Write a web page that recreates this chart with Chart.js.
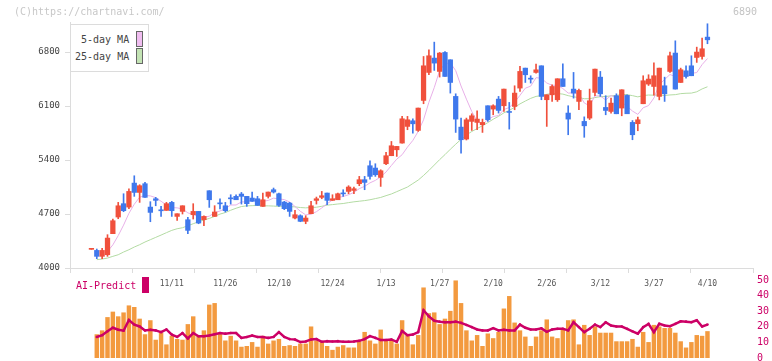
<!DOCTYPE html>
<html>
<head>
<meta charset="utf-8">
<script src="https://cdn.jsdelivr.net/npm/chart.js@4/dist/chart.umd.min.js"></script>
<style>
  html, body { margin: 0; padding: 0; background: #fff; overflow: hidden; }
  body { width: 772px; height: 361px; position: relative; font-family: "DejaVu Sans Mono", monospace; }
  #top { position: absolute; left: 0; top: 0; z-index: 2; }
  #bottom { position: absolute; left: 0; top: 270px; z-index: 1; }
  .txt { position: absolute; font-size: 10px; line-height: 10px; white-space: pre; z-index: 4; }
  #legend { position: absolute; left: 70px; top: 24px; width: 79px; height: 48px; box-sizing: border-box;
            border: 1px solid #dcdcdc; background: #fff; z-index: 3; }
  .sw { position: absolute; width: 7px; height: 16px; box-sizing: border-box; border: 1px solid #666; z-index: 4; }
</style>
</head>
<body>
<canvas id="top" width="772" height="295"></canvas>
<canvas id="bottom" width="772" height="100"></canvas>

<div class="txt" style="left:14px; top:7px; color:#c8c8c8;">(C)https://chartnavi.com/</div>
<div class="txt" style="left:733px; top:7px; color:#c4c4c4;">6890</div>
<div id="legend"></div>
<div class="txt" style="left:81px; top:35px; color:#444;">5-day MA</div>
<div class="txt" style="left:75px; top:52px; color:#444;">25-day MA</div>
<div class="sw" style="left:136px; top:31px; background:#f0bdf0;"></div>
<div class="sw" style="left:136px; top:48px; background:#c3e3b4;"></div>
<div class="txt" style="left:76px; top:281px; color:#cc0066;">AI-Predict</div>
<div style="position:absolute; left:142px; top:277px; width:7px; height:16px; background:#cc0066; z-index:4;"></div>

<script>
// daily candles, oldest first
const opens = [4242,4228,4151,4172,4445,4661,4834,4790,5101,4980,5093,4790,4898,4745,4747,4851,4669,4734,4626,4691,
  4734,4626,5002,4669,4836,4807,4900,4929,4959,4929,4907,4898,4799,4929,5015,4963,4855,4842,4648,4678,
  4605,4704,4877,4916,4972,4877,4885,4965,4993,5006,5093,5145,5326,5296,5175,5352,5456,5533,5620,5836,
  5909,5784,6173,6536,6722,6549,6795,6700,6225,5827,5672,5901,5888,5858,6104,6061,6190,6104,6020,6095,
  6333,6592,6452,6536,6622,6182,6246,6182,6454,6009,6320,6160,5901,5944,6277,6475,6082,6030,6234,6074,
  6238,5888,5871,6130,6385,6354,6225,6363,6549,6787,6406,6557,6622,6730,6743,6994];
const highs = [4250,4246,4254,4432,4635,4851,4963,5028,5196,5080,5110,4860,4916,4799,4851,4864,4704,4807,4656,4834,
  4734,4678,5002,4808,4898,4851,4950,4950,4980,4929,4985,4929,4972,4985,5037,4972,4864,4851,4747,4690,
  4678,4864,4920,4993,4972,4950,4972,5015,5067,5050,5188,5188,5391,5352,5274,5499,5641,5577,5966,5966,
  5935,6074,6743,6830,6929,6795,6808,6700,6259,5944,5944,6000,6039,5931,6104,6117,6225,6320,6147,6363,
  6614,6592,6493,6644,6622,6246,6376,6454,6648,6104,6536,6320,5960,6320,6580,6549,6234,6203,6259,6311,
  6246,5912,5957,6493,6506,6660,6592,6475,6800,6946,6592,6622,6752,6864,6981,7167];
const lows = [4242,4121,4121,4151,4445,4639,4730,4769,4929,4851,4916,4600,4807,4669,4747,4669,4617,4700,4445,4635,
  4574,4548,4786,4669,4765,4726,4829,4885,4829,4799,4864,4812,4799,4907,4972,4799,4756,4669,4635,4600,
  4574,4704,4829,4898,4820,4877,4885,4929,4963,4963,5067,5015,5153,5188,5058,5339,5456,5447,5620,5793,
  5750,5771,6130,6506,6562,6476,6484,6268,5758,5490,5660,5784,5793,5758,5901,5987,6009,6030,5801,6052,
  6290,6406,6398,6527,6182,5836,6160,6160,6354,5728,6203,6052,5695,5925,6234,6225,5987,6009,6000,5974,
  6000,5663,5780,6130,6367,6240,6180,6160,6536,6320,6406,6463,6493,6666,6709,6908];
const closes = [4250,4151,4228,4388,4613,4807,4743,4993,4980,5067,4916,4721,4877,4742,4834,4743,4704,4807,4488,4734,
  4583,4669,4885,4726,4832,4743,4897,4885,4929,4834,4864,4812,4885,4985,4985,4812,4769,4734,4691,4605,
  4648,4807,4898,4937,4877,4898,4963,4961,5050,5028,5145,5110,5188,5209,5261,5456,5585,5577,5935,5922,
  5870,6074,6622,6752,6657,6787,6484,6406,5931,5663,5922,5974,5931,5888,5922,6104,6043,6320,6017,6268,
  6549,6506,6449,6570,6225,6246,6354,6454,6354,5931,6268,6303,5844,6169,6579,6259,6043,6138,6000,6311,
  6000,5728,5922,6428,6450,6493,6592,6259,6752,6320,6571,6484,6493,6800,6843,6959];

const ma5 = [null,null,null,4215,4300,4420,4556,4709,4827,4918,4940,4935,4912,4865,4818,4783,4780,4766,4715,4695,
  4663,4656,4672,4719,4739,4771,4817,4817,4857,4858,4882,4865,4865,4876,4906,4896,4887,4857,4798,4735,
  4689,4697,4730,4779,4833,4883,4915,4927,4950,4980,5029,5059,5104,5136,5183,5245,5330,5412,5469,5568,
  5654,5771,5922,6150,6340,6560,6650,6660,6560,6360,6190,6030,5905,5860,5927,5964,5978,6055,6081,6150,
  6239,6332,6358,6468,6460,6399,6369,6370,6327,6268,6272,6262,6140,6103,6233,6231,6179,6238,6204,6150,
  6098,6035,5992,6078,6106,6204,6377,6444,6509,6483,6499,6477,6524,6534,6638,6716];
const ma25 = [null,4108,4116,4129,4151,4172,4207,4237,4272,4302,4337,4367,4397,4427,4458,4488,4509,4522,4548,4574,
  4600,4622,4643,4669,4699,4719,4749,4775,4797,4806,4808,4811,4806,4806,4803,4799,4801,4795,4793,4784,
  4780,4784,4788,4800,4815,4822,4830,4836,4848,4858,4866,4874,4885,4900,4915,4938,4960,4990,5020,5050,
  5095,5140,5200,5265,5335,5405,5470,5540,5605,5668,5725,5770,5808,5845,5885,5929,5967,6012,6044,6084,
  6128,6165,6200,6225,6237,6252,6264,6262,6255,6235,6220,6210,6195,6195,6210,6221,6224,6232,6237,6252,
  6248,6235,6219,6236,6243,6241,6244,6237,6244,6248,6261,6266,6268,6285,6322,6350];
const priceTicks = [4000, 4700, 5400, 6100, 6800];

// lower panel
const volume = [null,30,35,52,59,53,58,67,65,50,30,48,23,32,17,28,24,23,43,53,
  28,35,68,70,31,22,28,22,14,15,20,14,28,18,22,24,15,16,15,18,
  18,40,22,21,15,10,14,16,13,13,21,33,22,18,36,22,22,18,48,30,
  17,29,90,57,58,43,50,60,99,70,35,22,29,15,31,25,33,63,79,45,
  35,27,15,27,35,49,27,25,36,48,49,17,42,29,40,32,32,32,21,21,
  21,24,14,33,20,42,40,38,38,32,21,13,20,29,28,34];
const aiPredict = [null,13.5,14.6,17.1,19.4,18.1,17.5,24.4,21.4,20.2,17.7,18.1,17.7,16.6,18.3,15.0,13.5,16.0,12.5,16.0,
  13.9,13.9,14.4,15.2,16.0,15.6,16.0,16.0,12.9,13.5,14.4,13.5,13.5,12.9,13.5,16.6,13.5,12.1,11.8,10.2,
  10.6,11.9,12.1,10.4,10.8,10.6,10.8,10.4,10.4,10.6,11.0,12.1,14.0,12.9,11.5,11.5,11.9,10.4,17.3,14.6,
  15.0,16.6,30.6,26.7,23.9,23.3,22.9,22.9,23.3,22.5,21.2,19.8,18.3,17.7,17.7,19.1,17.7,18.1,17.7,17.7,
  21.4,19.4,18.3,18.3,19.0,16.8,18.3,18.7,18.7,17.7,22.9,19.8,16.6,18.7,21.4,19.8,22.9,20.8,20.2,20.2,
  18.7,17.1,15.6,19.8,21.9,16.6,21.9,20.8,20.4,21.9,23.5,23.3,22.9,24.2,20.2,21.4];

// date labels, one every 10 sessions
const dateLabels = ["11/11","11/26","12/10","12/24","1/13","1/27","2/10","2/26","3/12","3/27","4/10"];
const dateIdx = [15,25,35,45,55,65,75,85,95,105,115];

const UP = "#f0503c", DOWN = "#3f78ec";
const FONT = "DejaVu Sans Mono";
const X_MIN = -4, X_MAX = 123.5;

const candleColors = closes.map((c, i) => c >= opens[i] ? UP : DOWN);
const wicks = closes.map((c, i) => ({ x: i, y: [lows[i], highs[i]] }));
const bodies = closes.map((c, i) => ({ x: i, y: [opens[i], c] }));
const pts = arr => arr.map((v, i) => ({ x: i, y: v })).filter(p => p.y !== null);

new Chart(document.getElementById("top"), {
  type: "bar",
  data: {
    datasets: [
      { type: "line", data: pts(ma5), borderColor: "#e8b0e8", borderWidth: 1, pointRadius: 0, order: 2 },
      { type: "line", data: pts(ma25), borderColor: "#b3dba3", borderWidth: 1, pointRadius: 0, order: 3 },
      { data: wicks, backgroundColor: candleColors, barThickness: 1, grouped: false, order: 1 },
      { data: bodies, backgroundColor: candleColors, barThickness: 4.6, minBarLength: 1, grouped: false, order: 0 }
    ]
  },
  options: {
    responsive: false,
    animation: false,
    layout: { padding: { left: 0, right: 19, top: 22, bottom: 0 } },
    plugins: { legend: { display: false }, tooltip: { enabled: false } },
    scales: {
      x: {
        type: "linear", min: X_MIN, max: X_MAX, offset: false,
        grid: { drawOnChartArea: false, tickLength: 5, color: "#dcdcdc", offset: false },
        border: { color: "#dcdcdc" },
        ticks: { autoSkip: false, padding: 0, callback: () => "" },
        afterBuildTicks: s => {
          const t = [];
          for (let k = 0; k <= 11; k++) t.push({ value: s.min + (s.max - s.min) * k / 11 });
          s.ticks = t;
        },
        afterFit: s => { s.height = 7; }
      },
      xd: {
        type: "linear", position: "bottom", weight: 1, min: X_MIN, max: X_MAX, offset: false,
        grid: { display: false, drawTicks: false }, border: { display: false },
        ticks: {
          autoSkip: false, maxRotation: 0, padding: 4, color: "#555",
          font: { family: FONT, size: 8 },
          callback: v => { const k = dateIdx.indexOf(v); return k < 0 ? "" : dateLabels[k]; }
        },
        afterBuildTicks: s => { s.ticks = dateIdx.map(v => ({ value: v })); },
        afterFit: s => { s.height = 20; }
      },
      y: {
        type: "linear", position: "left", min: 4000, max: 7190, beginAtZero: false,
        grid: { drawOnChartArea: false, tickLength: 5, color: "#dcdcdc" },
        border: { color: "#dcdcdc" },
        ticks: { padding: 5, color: "#444", font: { family: FONT, size: 9 }, callback: v => String(v) },
        afterBuildTicks: s => { s.ticks = priceTicks.map(v => ({ value: v })); },
        afterFit: s => { s.width = 70; }
      }
    }
  }
});

new Chart(document.getElementById("bottom"), {
  type: "bar",
  data: {
    datasets: [
      { type: "line", data: pts(aiPredict), yAxisID: "y", borderColor: "#cc0066", borderWidth: 2.5,
        pointRadius: 1.3, pointBackgroundColor: "#cc0066", pointBorderWidth: 0, order: 0 },
      { data: pts(volume), yAxisID: "yv", backgroundColor: "#f39a3f", barThickness: 3.8, order: 1 }
    ]
  },
  options: {
    responsive: false,
    animation: false,
    layout: { padding: { left: 70, right: 0, top: 8, bottom: 12 } },
    plugins: { legend: { display: false }, tooltip: { enabled: false } },
    scales: {
      x: { type: "linear", min: X_MIN, max: X_MAX, offset: false, display: false },
      y: {
        position: "right", min: 0, max: 50,
        grid: { display: false, drawTicks: false }, border: { display: false },
        ticks: { stepSize: 10, padding: 4, color: "#cc0066", font: { family: FONT, size: 10 } },
        afterFit: s => { s.width = 19; }
      },
      yv: { display: false, min: 0, max: 100 }
    }
  }
});
</script>
</body>
</html>
